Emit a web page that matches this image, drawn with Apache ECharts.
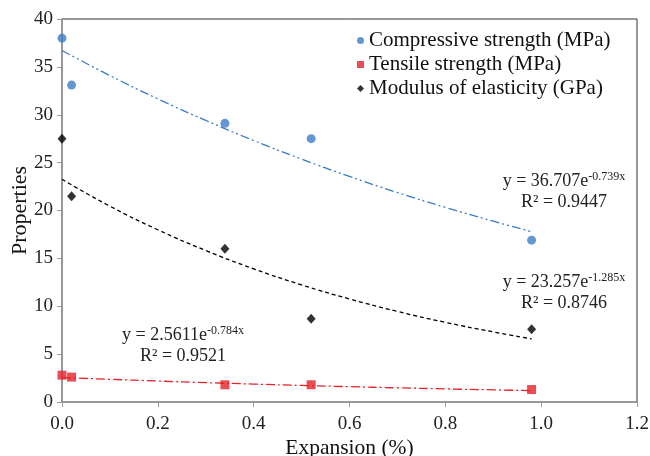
<!DOCTYPE html>
<html>
<head>
<meta charset="utf-8">
<script src="https://cdn.jsdelivr.net/npm/echarts@6/dist/echarts.min.js"></script>
<style>html,body{margin:0;padding:0;background:#fff}#c{width:650px;height:456px}</style>
</head>
<body>
<div id="c"></div>
<script>
// Measured data
var expansion = [0, 0.02, 0.34, 0.52, 0.98];
var compressive = [38.0, 33.1, 29.1, 27.5, 16.9];
var tensile = [2.8, 2.6, 1.8, 1.8, 1.3];
var modulus = [27.5, 21.5, 16.0, 8.7, 7.6];

// Trendline values
var trendX = [0, 0.1, 0.2, 0.3, 0.4, 0.5, 0.6, 0.7, 0.8, 0.9, 0.98];
var compTrend = [36.71, 34.09, 31.66, 29.41, 27.31, 25.37, 23.56, 21.88, 20.33, 18.88, 17.79];
var modTrend = [23.26, 20.45, 17.99, 15.82, 13.91, 12.23, 10.76, 9.46, 8.32, 7.32, 6.60];
var tenTrend = [2.56, 2.37, 2.19, 2.02, 1.87, 1.73, 1.60, 1.48, 1.37, 1.27, 1.19];

var xTicks = ['0.0', '0.2', '0.4', '0.6', '0.8', '1.0', '1.2'];
var names = ['Compressive strength (MPa)', 'Tensile strength (MPa)', 'Modulus of elasticity (GPa)'];
var eqs = [
  ['y = 36.707e', '-0.739x', 'R² = 0.9447'],
  ['y = 23.257e', '-1.285x', 'R² = 0.8746'],
  ['y = 2.5611e', '-0.784x', 'R² = 0.9521']
];

function pairs(xs, ys) { return xs.map(function (x, i) { return [x, ys[i]]; }); }

var FONT = '"Liberation Serif", "DejaVu Serif", serif';
var blue = '#3d7cc6', red = '#e4222a', black = '#000';

var chart = echarts.init(document.getElementById('c'), null, { renderer: 'canvas' });

function eqGraphic(e, cx, cy) {
  return [
    { type: 'text', x: cx, y: cy, style: {
        text: '{a|' + e[0] + '}{s|' + e[1] + '}', align: 'center', verticalAlign: 'middle',
        fontFamily: FONT,
        rich: { a: { fontSize: 18, fontFamily: FONT, fill: '#222' },
                s: { fontSize: 12, fontFamily: FONT, fill: '#222', padding: [0, 0, 9, 0] } } } },
    { type: 'text', x: cx, y: cy + 21, style: {
        text: e[2], align: 'center', verticalAlign: 'middle', fontFamily: FONT, fontSize: 18, fill: '#222' } }
  ];
}

var option = {
  backgroundColor: '#fff',
  animation: false,
  grid: { left: 62, right: 13, top: 19, bottom: 54, show: true, borderColor: '#333', borderWidth: 1,
    containLabel: false, outerBoundsMode: 'none' },
  legend: {
    data: [
      { name: names[0], icon: 'circle' },
      { name: names[1], icon: 'rect' },
      { name: names[2], icon: 'diamond' }
    ],
    orient: 'vertical', left: 352, top: 25, itemWidth: 7, itemHeight: 7, itemGap: 3,
    textStyle: { fontFamily: FONT, fontSize: 21, color: '#111' }
  },
  xAxis: {
    type: 'value', min: 0, max: 1.2, interval: 0.2,
    name: 'Expansion (%)', nameLocation: 'middle', nameGap: 35, nameMoveOverlap: false,
    nameTextStyle: { fontFamily: FONT, fontSize: 21.5, color: '#111' },
    axisLine: { lineStyle: { color: '#999', width: 1.5 } },
    axisTick: { show: true, length: 5, lineStyle: { color: '#999' } },
    axisLabel: { fontFamily: FONT, fontSize: 19, color: '#222', margin: 13,
      formatter: function (v) { return xTicks[Math.round(v / 0.2)]; } },
    splitLine: { show: false }
  },
  yAxis: {
    type: 'value', min: 0, max: 40, interval: 5,
    name: 'Properties', nameLocation: 'middle', nameGap: 31, nameMoveOverlap: false,
    nameTextStyle: { fontFamily: FONT, fontSize: 22, color: '#111' },
    axisLine: { show: true, lineStyle: { color: '#999', width: 1.5 } },
    axisTick: { show: true, length: 5, lineStyle: { color: '#999' } },
    axisLabel: { fontFamily: FONT, fontSize: 19, color: '#222', margin: 9 },
    splitLine: { show: false }
  },
  series: [
    { type: 'line', data: pairs(trendX, compTrend), smooth: true, showSymbol: false, silent: true,
      lineStyle: { color: blue, width: 1.3, type: [9, 3, 2, 3, 2, 3] }, z: 1 },
    { type: 'line', data: pairs(trendX, modTrend), smooth: true, showSymbol: false, silent: true,
      lineStyle: { color: black, width: 1.3, type: [4, 3] }, z: 1 },
    { type: 'line', data: pairs(trendX, tenTrend), smooth: true, showSymbol: false, silent: true,
      lineStyle: { color: red, width: 1.3, type: [9, 3, 2, 3] }, z: 1 },
    { name: names[0], type: 'scatter', data: pairs(expansion, compressive), symbol: 'circle', symbolSize: 9,
      itemStyle: { color: blue }, z: 3 },
    { name: names[1], type: 'scatter', data: pairs(expansion, tensile), symbol: 'rect', symbolSize: 9,
      itemStyle: { color: red }, z: 3 },
    { name: names[2], type: 'scatter', data: pairs(expansion, modulus), symbol: 'diamond', symbolSize: [9, 10],
      itemStyle: { color: black }, z: 3 }
  ],
  graphic: [].concat(eqGraphic(eqs[0], 564, 181), eqGraphic(eqs[1], 564, 282), eqGraphic(eqs[2], 183, 335))
};
chart.setOption(option);
</script>
</body>
</html>
